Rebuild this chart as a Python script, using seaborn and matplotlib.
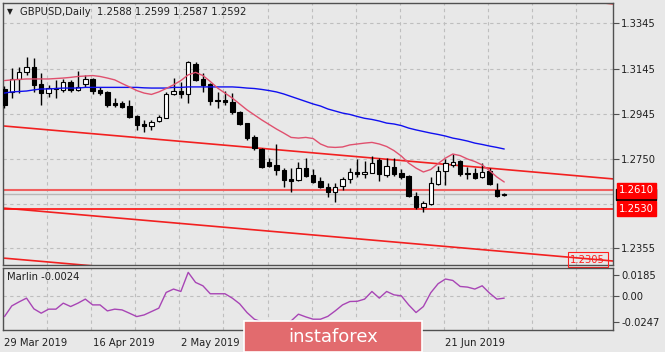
import numpy as np
import pandas as pd
import matplotlib
matplotlib.use("Agg")
import matplotlib.pyplot as plt
import matplotlib.transforms as mtransforms
from matplotlib.patches import Rectangle
import seaborn as sns

# ---------------- data ----------------
symbol_title = "GBPUSD,Daily"
last_ohlc = ["1.2588", "1.2599", "1.2587", "1.2592"]

opens = [1.3056, 1.3043, 1.3100, 1.3131, 1.3153, 1.3078, 1.3038, 1.3060, 1.3052, 1.3087,
         1.3052, 1.3078, 1.3100, 1.3052, 1.3043, 1.2994, 1.2994, 1.2981, 1.2937, 1.2902,
         1.2893, 1.2915, 1.2928, 1.3034, 1.3047, 1.3034, 1.3166, 1.3100, 1.3078, 1.3008,
         1.3008, 1.2999, 1.2955, 1.2906, 1.2845, 1.2792, 1.2735, 1.2722, 1.2700, 1.2660,
         1.2656, 1.2708, 1.2678, 1.2651, 1.2625, 1.2603, 1.2629, 1.2660, 1.2691, 1.2682,
         1.2686, 1.2744, 1.2678, 1.2713, 1.2686, 1.2673, 1.2585, 1.2537, 1.2550, 1.2638,
         1.2695, 1.2722, 1.2739, 1.2686, 1.2686, 1.2669, 1.2695, 1.2612, 1.2588]
highs = [1.3069, 1.3148, 1.3153, 1.3197, 1.3192, 1.3126, 1.3074, 1.3096, 1.3100, 1.3096,
         1.3135, 1.3118, 1.3104, 1.3065, 1.3047, 1.3016, 1.3003, 1.3008, 1.2942, 1.2920,
         1.2920, 1.2942, 1.3043, 1.3104, 1.3087, 1.3179, 1.3175, 1.3126, 1.3082, 1.3043,
         1.3047, 1.3038, 1.2959, 1.2906, 1.2854, 1.2796, 1.2752, 1.2814, 1.2708, 1.2708,
         1.2735, 1.2752, 1.2704, 1.2669, 1.2642, 1.2642, 1.2669, 1.2708, 1.2748, 1.2739,
         1.2761, 1.2752, 1.2752, 1.2752, 1.2704, 1.2678, 1.2603, 1.2563, 1.2669, 1.2717,
         1.2748, 1.2770, 1.2744, 1.2713, 1.2708, 1.2730, 1.2708, 1.2642, 1.2599]
lows = [1.2972, 1.3016, 1.3038, 1.3118, 1.3043, 1.2986, 1.3021, 1.3016, 1.3043, 1.3043,
        1.3047, 1.3065, 1.3034, 1.3030, 1.2977, 1.2977, 1.2972, 1.2928, 1.2876, 1.2867,
        1.2876, 1.2911, 1.2928, 1.3030, 1.3016, 1.2994, 1.3091, 1.3043, 1.2986, 1.2972,
        1.2986, 1.2946, 1.2898, 1.2831, 1.2787, 1.2708, 1.2713, 1.2678, 1.2625, 1.2603,
        1.2651, 1.2669, 1.2642, 1.2620, 1.2581, 1.2559, 1.2612, 1.2642, 1.2669, 1.2664,
        1.2686, 1.2651, 1.2669, 1.2673, 1.2660, 1.2581, 1.2528, 1.2515, 1.2546, 1.2634,
        1.2634, 1.2713, 1.2673, 1.2660, 1.2660, 1.2664, 1.2634, 1.2581, 1.2587]
closes = [1.2986, 1.3100, 1.3131, 1.3153, 1.3074, 1.3038, 1.3060, 1.3056, 1.3087, 1.3052,
          1.3065, 1.3100, 1.3047, 1.3038, 1.2986, 1.2986, 1.2977, 1.2933, 1.2898, 1.2893,
          1.2911, 1.2933, 1.3034, 1.3047, 1.3034, 1.3175, 1.3096, 1.3074, 1.3003, 1.3003,
          1.2999, 1.2955, 1.2902, 1.2840, 1.2796, 1.2713, 1.2717, 1.2700, 1.2656, 1.2651,
          1.2708, 1.2673, 1.2647, 1.2625, 1.2603, 1.2625, 1.2660, 1.2691, 1.2682, 1.2691,
          1.2730, 1.2682, 1.2717, 1.2682, 1.2669, 1.2585, 1.2537, 1.2554, 1.2642, 1.2695,
          1.2730, 1.2735, 1.2682, 1.2682, 1.2664, 1.2691, 1.2638, 1.2585, 1.2592]

ma_red = [1.3093, 1.3096, 1.3098, 1.3100, 1.3100, 1.3100, 1.3100, 1.3102, 1.3104, 1.3107,
          1.3111, 1.3113, 1.3115, 1.3111, 1.3104, 1.3096, 1.3080, 1.3065, 1.3049, 1.3038,
          1.3032, 1.3043, 1.3058, 1.3074, 1.3093, 1.3118, 1.3129, 1.3115, 1.3089, 1.3060,
          1.3038, 1.3016, 1.2990, 1.2964, 1.2942, 1.2920, 1.2900, 1.2880, 1.2862, 1.2843,
          1.2840, 1.2843, 1.2838, 1.2814, 1.2801, 1.2799, 1.2801, 1.2810, 1.2814, 1.2818,
          1.2821, 1.2814, 1.2803, 1.2785, 1.2761, 1.2730, 1.2708, 1.2691, 1.2702, 1.2728,
          1.2752, 1.2770, 1.2763, 1.2748, 1.2737, 1.2722, 1.2697, 1.2669, 1.2647]
ma_blue = [1.3038, 1.3043, 1.3045, 1.3047, 1.3052, 1.3056, 1.3056, 1.3058, 1.3060, 1.3060,
           1.3060, 1.3063, 1.3063, 1.3063, 1.3063, 1.3063, 1.3063, 1.3063, 1.3063, 1.3061,
           1.3060, 1.3060, 1.3060, 1.3063, 1.3063, 1.3065, 1.3065, 1.3065, 1.3065, 1.3065,
           1.3065, 1.3065, 1.3063, 1.3060, 1.3058, 1.3054, 1.3049, 1.3043, 1.3034, 1.3023,
           1.3012, 1.3001, 1.2990, 1.2981, 1.2968, 1.2959, 1.2950, 1.2944, 1.2935, 1.2927,
           1.2922, 1.2915, 1.2906, 1.2902, 1.2895, 1.2884, 1.2876, 1.2869, 1.2862, 1.2856,
           1.2849, 1.2840, 1.2834, 1.2827, 1.2818, 1.2812, 1.2805, 1.2799, 1.2792]
marlin = [-0.0193, -0.0095, -0.0058, -0.0024, -0.0122, -0.0162, -0.0125, -0.0125, -0.0070, -0.0101,
          -0.0070, -0.0033, -0.0086, -0.0086, -0.0141, -0.0125, -0.0132, -0.0162, -0.0193, -0.0178,
          -0.0147, -0.0116, 0.0028, 0.0059, 0.0037, 0.0212, 0.0120, 0.0089, 0.0016, 0.0016,
          0.0016, -0.0024, -0.0076, -0.0156, -0.0217, -0.0242, -0.0270, -0.0270, -0.0260, -0.0233,
          -0.0171, -0.0196, -0.0217, -0.0217, -0.0191, -0.0141, -0.0086, -0.0055, -0.0053, -0.0033,
          0.0037, -0.0024, 0.0037, 0.0006, -0.0003, -0.0086, -0.0156, -0.0101, 0.0025, 0.0108,
          0.0151, 0.0138, 0.0083, 0.0077, 0.0059, 0.0089, 0.0022, -0.0033, -0.0024]

# labels under the watermark (20 May, 5 Jun) are hidden in the reference
date_ticks = [0, 12, 24, 36, 48, 60]
date_labels = ["29 Mar 2019", "16 Apr 2019", "2 May 2019", "", "", "21 Jun 2019"]
price_grid = [1.3345, 1.3145, 1.2945, 1.2750, 1.2550, 1.2355]
price_ticks = [1.3345, 1.3145, 1.2945, 1.2750, 1.2355]
price_tick_labels = ["1.3345", "1.3145", "1.2945", "1.2750", "1.2355"]
osc_ticks = [0.0185, 0.0, -0.0247]
osc_tick_labels = ["0.0185", "0.00", "-0.0247"]

levels = [1.2610, 1.2530]
level_labels = ["1.2610", "1.2530"]
chan_x = [0, 83]
chan_top = [1.3663, 1.3430]
chan_upper = [1.2893, 1.2660]
chan_mid = [1.2532, 1.2299]
chan_low = [1.2312, 1.2079]
trend_label = "1.2305"
bid = 1.2592
osc_name = "Marlin"

# ---------------- style ----------------
sns.set_style("white")
plt.rcParams["font.family"] = ["DejaVu Sans"]
BG = "#E8E8E8"
GRID = "#BEBEBE"
FRAME = "#505050"

W, H = 665, 352
fig = plt.figure(figsize=(W / 100, H / 100), dpi=100, facecolor=BG)
def fx(px): return px / W
def fy(py): return 1 - py / H

ax = fig.add_axes([fx(3), fy(265), fx(613) - fx(3), fy(3) - fy(265)])
ax2 = fig.add_axes([fx(3), fy(330), fx(613) - fx(3), fy(268) - fy(330)])
for a in (ax, ax2):
    a.set_facecolor(BG)
    for s in a.spines.values():
        s.set_color(FRAME)
        s.set_linewidth(1.0)

n = len(closes)
bars = np.arange(n)
df = pd.DataFrame({"bar": bars, "open": opens, "high": highs, "low": lows, "close": closes,
                   "ma_red": ma_red, "ma_blue": ma_blue, "marlin": marlin})

# grid
grid_x = list(range(0, 84, 6))
for a in (ax, ax2):
    for gx in grid_x:
        a.axvline(gx - 0.2, color=GRID, lw=0.8, ls=(0, (3, 3)), zorder=0)
for p in price_grid:
    ax.axhline(p, color=GRID, lw=0.8, ls=(0, (3, 3)), zorder=0)
ax2.axhline(0.0, color=GRID, lw=0.8, ls=(0, (3, 3)), zorder=0)

# candles
up = df["close"] >= df["open"]
ax.vlines(df["bar"], df["low"], df["high"], color="black", lw=1.0, zorder=3)
ax.bar(df["bar"], (df["close"] - df["open"]).abs().clip(lower=0.00005),
       bottom=np.minimum(df["open"], df["close"]), width=0.6,
       color=np.where(up, "white", "black"), edgecolor="black", linewidth=0.8, zorder=4)

# moving averages
sns.lineplot(data=df, x="bar", y="ma_blue", ax=ax, color="#1010F0", lw=1.0, zorder=5)
sns.lineplot(data=df, x="bar", y="ma_red", ax=ax, color="#E0506E", lw=1.0, zorder=5)

# channel lines and levels
for yy in (chan_top, chan_upper, chan_mid, chan_low):
    ax.plot(chan_x, yy, color="#F22020", lw=1.2, zorder=2)
ax.axhline(levels[0], color="#F06060", lw=1.5, zorder=2)
ax.axhline(levels[1], color="#FF1010", lw=1.2, zorder=2)
ax.axhline(bid, color="#B8B8B8", lw=1.0, zorder=1)

ax.set_xlim(-0.2, 82.8)
ax.set_ylim(1.2282, 1.3434)
ax.set_xticks([])
ax.set_xlabel("")
ax.set_ylabel("")
ax.yaxis.tick_right()
ax.set_yticks(price_ticks)
ax.set_yticklabels(price_tick_labels)
ax.tick_params(axis="y", length=4, width=0.8, color=FRAME, pad=2, labelsize=7.2, labelcolor="#202020")

trans = mtransforms.blended_transform_factory(ax.transAxes, ax.transData)
lx = (619 - 3) / 610
# bid price label, mostly covered by the level labels
ax.add_patch(Rectangle(((616 - 3) / 610, bid - 0.0024), 40 / 610, 0.0048, transform=trans,
                       fc="black", ec="black", clip_on=False, zorder=9))
for lv, lab in zip(levels, level_labels):
    ax.text(lx, lv, lab, transform=trans, ha="left", va="center", color="white",
            fontsize=7.2, clip_on=False, zorder=10,
            bbox=dict(boxstyle="square,pad=0.22", fc="#FF0000", ec="#FF0000"))
ax.text((605 - 3) / 610, 1.2305, trend_label, transform=trans, ha="right", va="center",
        color="#FF2020", fontsize=7.2, zorder=10,
        bbox=dict(boxstyle="square,pad=0.25", fc="none", ec="#FF2020", lw=0.8))

# oscillator
sns.lineplot(data=df, x="bar", y="marlin", ax=ax2, color="#A845B5", lw=1.0, zorder=5)
ax2.set_xlim(-0.2, 82.8)
ax2.set_ylim(-0.0316, 0.0252)
ax2.set_xlabel("")
ax2.set_ylabel("")
ax2.yaxis.tick_right()
ax2.set_yticks(osc_ticks)
ax2.set_yticklabels(osc_tick_labels)
ax2.tick_params(axis="y", length=4, width=0.8, color=FRAME, pad=2, labelsize=7.2, labelcolor="#202020")
ax2.set_xticks(date_ticks)
ax2.set_xticklabels(date_labels, ha="left")
ax2.tick_params(axis="x", length=3, width=0.8, color=FRAME, pad=3, labelsize=7.2, labelcolor="#202020")
ax2.text(4 / 610, 0.85, f"{osc_name} {marlin[-1]:.4f}", transform=ax2.transAxes,
         ha="left", va="center", fontsize=7.2, color="#202020")

# title
fig.text(fx(7), fy(12), "\u25BC", fontsize=5.5, ha="left", va="center", color="#202020")
fig.text(fx(20), fy(12), f"{symbol_title}  {' '.join(last_ohlc)}", fontsize=7.2,
         ha="left", va="center", color="#202020")

# watermark
fig.patches.append(Rectangle((fx(244), 0), fx(422) - fx(244), fy(321), transform=fig.transFigure,
                             fc="#E26B6E", ec="white", lw=1.2, zorder=20))
fig.text(fx(333), fy(337), "instaforex", fontsize=13, ha="center", va="center",
         color="white", zorder=21)

fig.savefig("out.png", dpi=100, facecolor=BG)
